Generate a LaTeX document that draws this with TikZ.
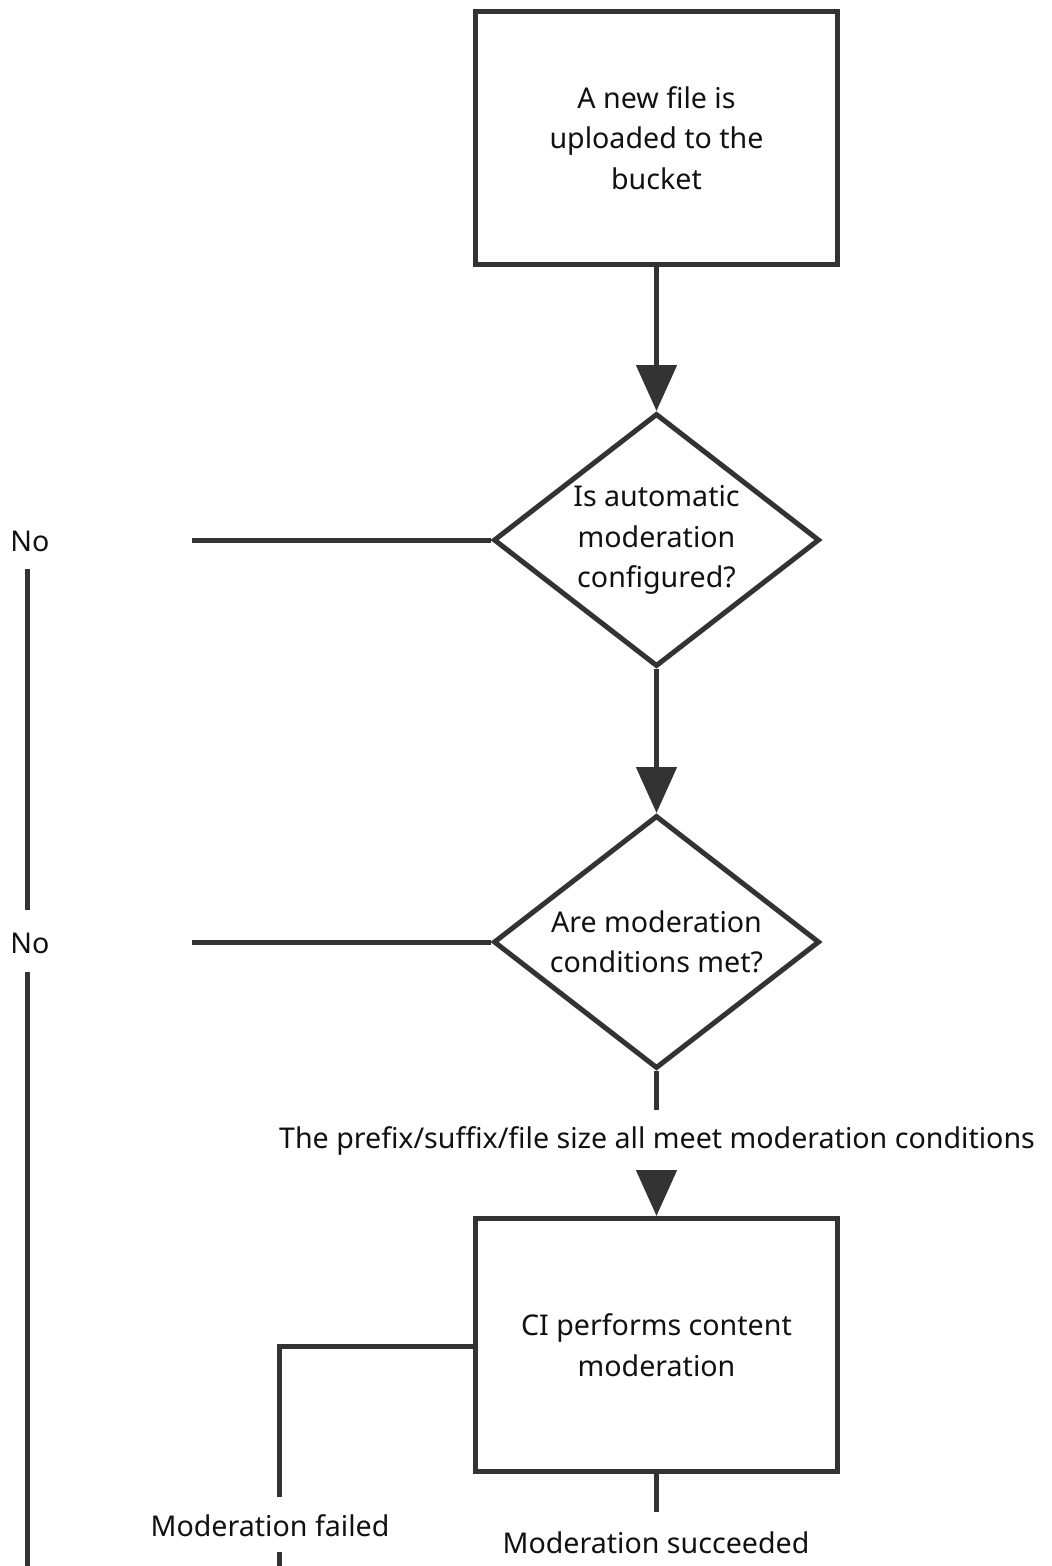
\documentclass[tikz,border=0pt]{standalone}
\usepackage{fontspec}
\setmainfont{Noto Sans}
\usetikzlibrary{arrows.meta,shapes.geometric}
\definecolor{edge}{HTML}{333333}
\definecolor{txt}{HTML}{111111}
\tikzset{
  box/.style={draw=edge, line width=5pt, minimum width=362pt, minimum height=253pt, align=center, text=txt, font=\fontsize{28.6}{40.5}\selectfont, inner sep=0pt},
  dec/.style={draw=edge, line width=5pt, shape=diamond, minimum width=326pt, minimum height=253pt, inner sep=0pt},
  lab/.style={text=txt, font=\fontsize{28.6}{40.5}\selectfont, inner sep=0pt, align=center},
  conn/.style={draw=edge, line width=5pt},
  arr/.style={conn, -{Triangle[length=46pt,width=40pt]}},
}
\begin{document}
\begin{tikzpicture}[x=1pt,y=-1pt]
\useasboundingbox (0,0) rectangle (1052,1566);
\node[box] (b1) at (656.5,138) {A new file is\\uploaded to the\\bucket};
\node[dec] (d1) at (656.5,540) {};
\node[lab] (t1) at (d1.center) {Is automatic\\moderation\\configured?};
\node[dec] (d2) at (656.5,942) {};
\node[lab] (t2) at (d2.center) {Are moderation\\conditions met?};
\node[box] (b2) at (656.5,1345) {CI performs content\\moderation};

\node[lab] (no1) at (30,541) {No};
\node[lab] (no2) at (30,943) {No};
\node[lab] (lcond) at (657,1141) {The prefix/suffix/file size all meet moderation conditions};
\node[lab] (lfail) at (270,1526) {Moderation failed};
\node[lab] (lsucc) at (656,1543) {Moderation succeeded};

\coordinate (h1) at (192,540);
\coordinate (h2) at (192,942);
\coordinate (v1a) at (27,569);
\coordinate (v1b) at (27,910);
\coordinate (v2a) at (27,972);
\coordinate (v2b) at (27,1575);
\coordinate (c1) at (656.5,1110);
\coordinate (c2) at (656.5,1172);
\coordinate (f1) at (279,1346);
\coordinate (f2) at (279,1497);
\coordinate (f3) at (279,1552);
\coordinate (f4) at (279,1575);
\coordinate (s1) at (656.5,1512);

\draw[arr] (b1.south) -- (d1.north);
\draw[arr] (d1.south) -- (d2.north);
\draw[conn] (d1.west) -- (h1);
\draw[conn] (d2.west) -- (h2);
\draw[conn] (v1a) -- (v1b);
\draw[conn] (v2a) -- (v2b);
\draw[conn] (d2.south) -- (c1);
\draw[arr] (c2) -- (b2.north);
\draw[conn] (b2.west |- f1) -- (f1) -- (f2);
\draw[conn] (f3) -- (f4);
\draw[conn] (b2.south) -- (s1);
\end{tikzpicture}
\end{document}
